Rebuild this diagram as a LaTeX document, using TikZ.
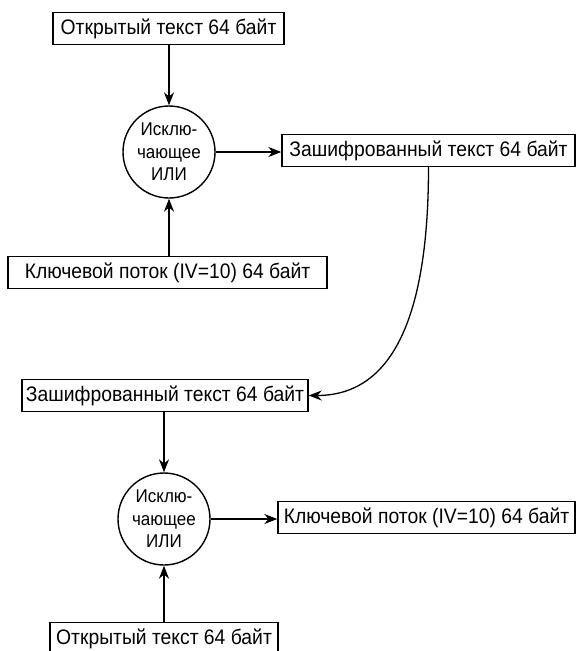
\documentclass[tikz,border=0pt]{standalone}
\usepackage{fontspec}
\setmainfont{Liberation Sans}[FakeStretch=0.92]
\usetikzlibrary{arrows.meta}
\begin{document}
\begin{tikzpicture}[x=1pt,y=-1pt,
  box/.style={draw,line width=1.4pt,inner sep=0pt,minimum height=32pt,font=\fontsize{21}{24}\selectfont},
  xor/.style={draw,circle,line width=1.4pt,minimum size=92pt,inner sep=0pt,align=center,font=\fontsize{18.5}{22.5}\selectfont},
  arr/.style={-{Stealth[length=13pt,width=10pt]},line width=1.3pt}]
\useasboundingbox (0,0) rectangle (576,651);
\node[box,minimum width=231pt] (b1) at (168.5,28.5) {Открытый текст 64 байт};
\node[xor] (c1) at (169,152) {Исклю-\\чающее\\ИЛИ};
\node[box,minimum width=293pt] (b2) at (428.5,150.5) {Зашифрованный текст 64 байт};
\node[box,minimum width=319pt] (b3) at (167.5,272.5) {Ключевой поток (IV=10) 64 байт};
\node[box,minimum width=286pt] (b4) at (165,395.5) {Зашифрованный текст 64 байт};
\node[xor] (c2) at (164,519) {Исклю-\\чающее\\ИЛИ};
\node[box,minimum width=297pt] (b5) at (426.5,517.5) {Ключевой поток (IV=10) 64 байт};
\node[box,minimum width=228pt] (b6) at (164,638.5) {Открытый текст 64 байт};
\draw[arr] (b1.south -| c1.north) -- (c1.north);
\draw[arr] (c1.east) -- (c1.east -| b2.west);
\draw[arr] (b3.north -| c1.south) -- (c1.south);
\draw[arr] (b2.south) .. controls +(0,163) and +(77,0) .. (b4.east);
\draw[arr] (b4.south -| c2.north) -- (c2.north);
\draw[arr] (c2.east) -- (c2.east -| b5.west);
\draw[arr] (b6.north -| c2.south) -- (c2.south);
\end{tikzpicture}
\end{document}
